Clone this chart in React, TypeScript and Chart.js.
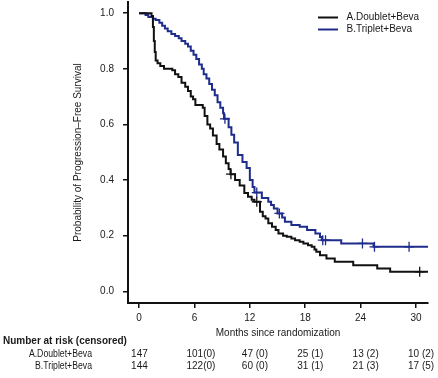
import React, { useEffect, useRef } from "react";
import Chart from "chart.js/auto";

// Kaplan-Meier step points: [month, survival]
const doubletTimes = [0, 1.35, 1.5, 1.6, 1.7, 1.8, 2.0, 2.3, 2.7, 3.6, 3.9, 4.25, 4.6, 5.0, 5.3, 5.6, 5.85, 6.1, 6.9, 7.1, 7.4, 7.7, 8.0, 8.4, 8.7, 9.1, 9.4, 9.7, 9.9, 10.4, 10.9, 11.4, 11.8, 12.2, 12.5, 13.1, 13.4, 13.7, 14.0, 14.4, 14.8, 15.1, 15.6, 16.0, 16.5, 16.9, 17.4, 17.8, 18.3, 18.7, 19.0, 19.2, 19.6, 20.3, 21.2, 23.2, 25.8, 27.2, 31.3];
const doubletSurv = [1.0, 0.99, 0.95, 0.9, 0.86, 0.83, 0.82, 0.81, 0.80, 0.795, 0.78, 0.77, 0.75, 0.735, 0.72, 0.70, 0.69, 0.67, 0.66, 0.63, 0.60, 0.585, 0.56, 0.53, 0.51, 0.485, 0.46, 0.44, 0.421, 0.40, 0.38, 0.353, 0.34, 0.329, 0.322, 0.286, 0.27, 0.262, 0.245, 0.232, 0.22, 0.208, 0.20, 0.196, 0.19, 0.184, 0.178, 0.172, 0.166, 0.16, 0.15, 0.142, 0.13, 0.118, 0.106, 0.094, 0.082, 0.07, 0.07];
const tripletTimes = [0, 0.7, 1.0, 1.5, 1.8, 2.2, 2.5, 2.8, 3.1, 3.5, 3.9, 4.3, 4.6, 5.0, 5.3, 5.6, 5.9, 6.2, 6.5, 6.8, 7.0, 7.3, 7.6, 7.9, 8.2, 8.5, 8.8, 9.1, 9.2, 9.7, 10.0, 10.3, 10.7, 11.2, 11.65, 12.0, 12.3, 12.5, 13.3, 14.0, 14.3, 14.6, 15.0, 15.5, 15.8, 16.5, 17.4, 18.2, 19.1, 19.6, 19.8, 21.9, 25.4, 31.3];
const tripletSurv = [1.0, 0.993, 0.986, 0.98, 0.975, 0.965, 0.955, 0.945, 0.935, 0.925, 0.918, 0.91, 0.90, 0.89, 0.88, 0.865, 0.85, 0.835, 0.815, 0.80, 0.78, 0.765, 0.745, 0.725, 0.705, 0.68, 0.66, 0.64, 0.62, 0.59, 0.563, 0.535, 0.49, 0.465, 0.443, 0.40, 0.375, 0.355, 0.335, 0.322, 0.31, 0.298, 0.28, 0.265, 0.25, 0.238, 0.232, 0.22, 0.208, 0.195, 0.184, 0.172, 0.16, 0.16];

// Censor marks
const doubletCensorTimes = [9.95, 12.75, 30.4];
const doubletCensorSurv = [0.421, 0.322, 0.07];
const tripletCensorTimes = [9.3, 12.75, 15.2, 19.9, 20.2, 24.2, 25.5, 29.25];
const tripletCensorSurv = [0.62, 0.355, 0.28, 0.184, 0.184, 0.172, 0.16, 0.16];

const xTicks = [0, 6, 12, 18, 24, 30];
const yTicks = [0, 0.2, 0.4, 0.6, 0.8, 1.0];

const seriesNames = ["A.Doublet+Beva", "B.Triplet+Beva"];
const riskA = ["147", "101(0)", "47 (0)", "25 (1)", "13 (2)", "10 (2)"];
const riskB = ["144", "122(0)", "60 (0)", "31 (1)", "21 (3)", "17 (5)"];

const BLACK = "#111111";
const BLUE = "#1e2c8c";
const TEXT = "#1a1a1a";
const FONT = "'Liberation Sans', Arial, sans-serif";

const zip = (xs: number[], ys: number[]) => xs.map((x, i) => ({ x, y: ys[i] }));

export default function App() {
  const ref = useRef<HTMLCanvasElement | null>(null);
  useEffect(() => {
    document.body.style.margin = "0";
    const canvas = ref.current!;
    const overlay = {
      id: "overlay",
      afterDraw(chart: any) {
        const ctx = chart.ctx;
        const xs = chart.scales.x;
        const area = chart.chartArea;
        ctx.save();
        ctx.fillStyle = TEXT;
        // y title
        ctx.save();
        ctx.translate(78, (area.top + area.bottom) / 2);
        ctx.rotate(-Math.PI / 2);
        ctx.font = `10px ${FONT}`;
        ctx.textAlign = "center";
        ctx.textBaseline = "middle";
        ctx.fillText("Probability of Progression\u2013Free Survival", 0, 0);
        ctx.restore();
        // x title
        ctx.font = `10px ${FONT}`;
        ctx.textAlign = "center";
        ctx.textBaseline = "middle";
        ctx.fillText("Months since randomization", (area.left + area.right) / 2, 333);
        // legend
        const legendColors = [BLACK, BLUE];
        seriesNames.forEach((name, i) => {
          const y = 17.5 + i * 12;
          ctx.strokeStyle = legendColors[i];
          ctx.lineWidth = 2;
          ctx.beginPath();
          ctx.moveTo(318, y);
          ctx.lineTo(338, y);
          ctx.stroke();
          ctx.textAlign = "left";
          ctx.fillText(name, 346.5, y);
        });
        // risk table
        ctx.font = `bold 10px ${FONT}`;
        ctx.textAlign = "left";
        ctx.fillText("Number at risk (censored)", 3, 341);
        const rows = [riskA, riskB];
        rows.forEach((row, r) => {
          const y = 354 + r * 12.5;
          ctx.font = `10px ${FONT}`;
          ctx.save();
          ctx.scale(0.87, 1);
          ctx.textAlign = "right";
          ctx.fillText(seriesNames[r], 92 / 0.87, y);
          ctx.restore();
          ctx.textAlign = "left";
          row.forEach((txt, i) => {
            ctx.fillText(txt, xs.getPixelForValue(xTicks[i]) - 8, y);
          });
        });
        ctx.restore();
      },
    };
    const chart = new Chart(canvas, {
      type: "line",
      data: {
        datasets: [
          {
            label: seriesNames[0],
            data: zip(doubletTimes, doubletSurv),
            borderColor: BLACK,
            borderWidth: 2,
            pointRadius: 0,
            pointHoverRadius: 0,
            stepped: "before",
            fill: false,
          },
          {
            label: seriesNames[1],
            data: zip(tripletTimes, tripletSurv),
            borderColor: BLUE,
            borderWidth: 2,
            pointRadius: 0,
            pointHoverRadius: 0,
            stepped: "before",
            fill: false,
          },
          {
            type: "scatter",
            label: "censorA",
            data: zip(doubletCensorTimes, doubletCensorSurv),
            borderColor: BLACK,
            backgroundColor: BLACK,
            pointStyle: "cross",
            pointRadius: 5,
            pointBorderWidth: 1.3,
            showLine: false,
          } as any,
          {
            type: "scatter",
            label: "censorB",
            data: zip(tripletCensorTimes, tripletCensorSurv),
            borderColor: BLUE,
            backgroundColor: BLUE,
            pointStyle: "cross",
            pointRadius: 5,
            pointBorderWidth: 1.3,
            showLine: false,
          } as any,
        ],
      },
      options: {
        animation: false,
        responsive: false,
        maintainAspectRatio: false,
        layout: { autoPadding: false, padding: { top: 2, right: 10, left: 0, bottom: 0 } },
        plugins: { legend: { display: false }, tooltip: { enabled: false } },
        scales: {
          x: {
            type: "linear",
            min: -1.2,
            max: 31.3,
            afterBuildTicks: (s: any) => {
              s.ticks = xTicks.map((v) => ({ value: v }));
            },
            afterFit: (s: any) => {
              s.height = 75;
              s.paddingLeft = 0;
              s.paddingRight = 0;
            },
            ticks: {
              autoSkip: false,
              maxRotation: 0,
              padding: 4,
              color: TEXT,
              font: { family: FONT, size: 10 },
              callback: (v: any) => String(v),
            },
            grid: { drawOnChartArea: false, drawTicks: true, tickLength: 5, color: BLACK, lineWidth: 1.5 },
            border: { display: true, color: BLACK, width: 2 },
          },
          y: {
            type: "linear",
            min: -0.042,
            max: 1.04,
            afterBuildTicks: (s: any) => {
              s.ticks = yTicks.map((v) => ({ value: v }));
            },
            afterFit: (s: any) => {
              s.width = 128;
              s.paddingTop = 0;
              s.paddingBottom = 0;
            },
            ticks: {
              padding: 9,
              color: TEXT,
              font: { family: FONT, size: 10 },
              callback: (v: any) => Number(v).toFixed(1),
            },
            grid: { drawOnChartArea: false, drawTicks: true, tickLength: 5, color: BLACK, lineWidth: 1.5 },
            border: { display: true, color: BLACK, width: 2 },
          },
        },
      },
      plugins: [overlay],
    } as any);
    return () => chart.destroy();
  }, []);
  return (
    <div style={{ width: 438, height: 378, background: "#fff" }}>
      <canvas ref={ref} width={438} height={378} style={{ display: "block" }} />
    </div>
  );
}
